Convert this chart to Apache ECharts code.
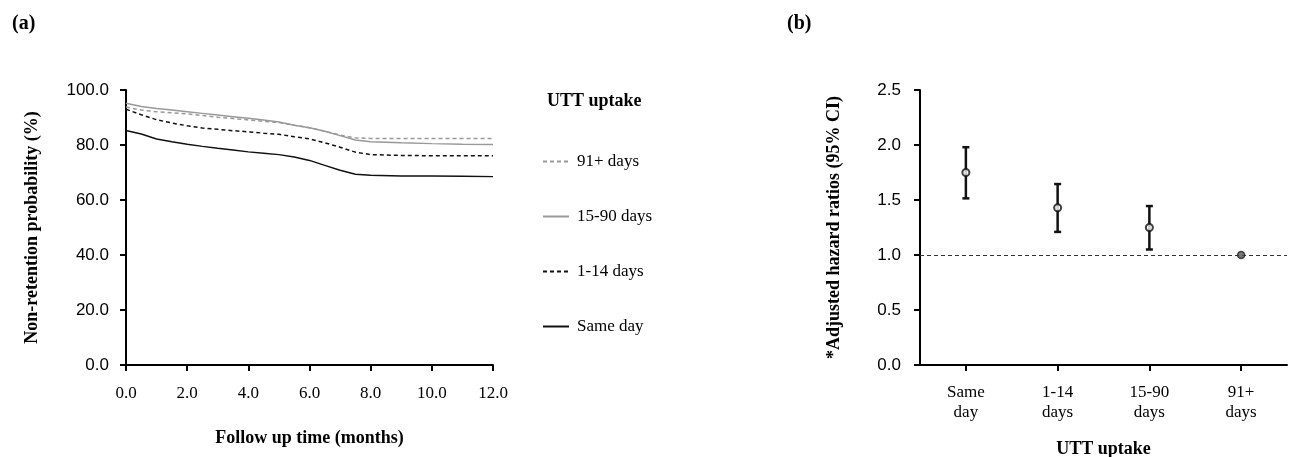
<!DOCTYPE html>
<html>
<head>
<meta charset="utf-8">
<script src="https://cdn.jsdelivr.net/npm/echarts@6/dist/echarts.min.js"></script>
<style>
  html, body { margin: 0; padding: 0; background: #fff; }
  #chart { width: 1298px; height: 457px; }
</style>
</head>
<body>
<div id="chart"></div>
<script>
// panel (a): follow up time in months
const months = [0, 0.5, 1, 1.5, 2, 2.5, 3, 3.5, 4, 4.5, 5, 5.5, 6, 6.5, 7, 7.5, 8, 9, 10, 11, 12];
const days91Plus = [93.8, 92.7, 92.1, 91.7, 91.3, 90.7, 90.1, 89.6, 89.1, 88.6, 88.2, 87.2, 86.3, 85.0, 83.6, 82.6, 82.4, 82.4, 82.4, 82.4, 82.4];
const days15to90 = [95.2, 94.0, 93.3, 92.7, 92.1, 91.5, 90.9, 90.3, 89.7, 89.1, 88.4, 87.2, 86.3, 85.0, 83.4, 81.8, 81.2, 80.8, 80.5, 80.3, 80.2];
const days1to14 = [93.0, 91.0, 89.2, 88.0, 87.0, 86.2, 85.7, 85.2, 84.8, 84.3, 83.9, 83.0, 82.2, 80.8, 79.2, 77.4, 76.5, 76.2, 76.1, 76.1, 76.1];
const sameDay = [85.3, 84.0, 82.2, 81.2, 80.3, 79.5, 78.8, 78.2, 77.5, 77.0, 76.5, 75.6, 74.4, 72.6, 70.8, 69.4, 69.0, 68.7, 68.7, 68.6, 68.5];

// panel (b): adjusted hazard ratios
const hrCategories = ['Same\nday', '1-14\ndays', '15-90\ndays', '91+\ndays'];
const hrPoint = [1.75, 1.43, 1.25, 1.0];
const hrLower = [1.515, 1.21, 1.05, null];
const hrUpper = [1.98, 1.645, 1.445, null];

const SERIF = '"Liberation Serif", "Times New Roman", serif';
const SANS = '"Liberation Sans", Arial, sans-serif';

const pairs = (ys) => months.map((m, i) => [m, ys[i]]);

const axisLineStyle = { show: true, lineStyle: { color: '#000', width: 2 } };
const axisTickStyle = { show: true, inside: false, length: 6, lineStyle: { color: '#000', width: 2 } };
const nameStyle = { fontFamily: SERIF, fontWeight: 'bold', fontSize: 18, color: '#000' };

const myChart = echarts.init(document.getElementById('chart'));

const option = {
  backgroundColor: '#fff',
  animation: false,
  title: [
    { text: '(a)', left: 7, top: 9, textStyle: { fontFamily: SERIF, fontWeight: 'bold', fontSize: 20, color: '#000' } },
    { text: '(b)', left: 782, top: 9, textStyle: { fontFamily: SERIF, fontWeight: 'bold', fontSize: 20, color: '#000' } },
    { text: 'UTT uptake', left: 542, top: 87, textStyle: { fontFamily: SERIF, fontWeight: 'bold', fontSize: 18, color: '#000' } }
  ],
  legend: {
    orient: 'vertical',
    left: 537,
    top: 148,
    itemWidth: 26,
    itemHeight: 14,
    itemGap: 38,
    itemStyle: { opacity: 0, borderWidth: 0 },
    data: ['91+ days', '15-90 days', '1-14 days', 'Same day'],
    textStyle: { fontFamily: SERIF, fontSize: 17, color: '#000', padding: [0, 0, 0, 3] }
  },
  grid: [
    { left: 126, right: 805, top: 90, bottom: 92, outerBoundsMode: 'none' },
    { left: 920, right: 11, top: 90, bottom: 92, outerBoundsMode: 'none' }
  ],
  xAxis: [
    {
      gridIndex: 0, type: 'value', min: 0, max: 12, interval: 2,
      name: 'Follow up time (months)', nameLocation: 'middle', nameGap: 64, nameTextStyle: nameStyle,
      axisLine: axisLineStyle, axisTick: axisTickStyle, splitLine: { show: false },
      axisLabel: { margin: 20, fontFamily: SERIF, fontSize: 17, color: '#000', formatter: v => v.toFixed(1) }
    },
    {
      gridIndex: 1, type: 'category', data: hrCategories, boundaryGap: true,
      name: 'UTT uptake', nameLocation: 'middle', nameGap: 75, nameTextStyle: nameStyle,
      axisLine: axisLineStyle, axisTick: Object.assign({}, axisTickStyle, { alignWithLabel: true }),
      axisLabel: { margin: 18, fontFamily: SERIF, fontSize: 17, lineHeight: 20, color: '#000' }
    }
  ],
  yAxis: [
    {
      gridIndex: 0, type: 'value', min: 0, max: 100, interval: 20,
      name: 'Non-retention probability (%)', nameLocation: 'middle', nameRotate: 90, nameGap: 85, nameTextStyle: nameStyle,
      axisLine: axisLineStyle, axisTick: axisTickStyle, splitLine: { show: false },
      axisLabel: { margin: 17, fontFamily: SANS, fontSize: 17, color: '#000', formatter: v => v.toFixed(1) }
    },
    {
      gridIndex: 1, type: 'value', min: 0, max: 2.5, interval: 0.5,
      name: '*Adjusted hazard ratios (95% CI)', nameLocation: 'middle', nameRotate: 90, nameGap: 77, nameTextStyle: nameStyle,
      axisLine: axisLineStyle, axisTick: axisTickStyle, splitLine: { show: false },
      axisLabel: { margin: 19, fontFamily: SANS, fontSize: 17, color: '#000', formatter: v => v.toFixed(1) }
    }
  ],
  series: [
    {
      name: '91+ days', type: 'line', xAxisIndex: 0, yAxisIndex: 0, symbol: 'none',
      data: pairs(days91Plus), lineStyle: { color: '#999', width: 1.5, type: [4, 3] }, itemStyle: { color: '#999' }
    },
    {
      name: '15-90 days', type: 'line', xAxisIndex: 0, yAxisIndex: 0, symbol: 'none',
      data: pairs(days15to90), lineStyle: { color: '#999', width: 1.5 }, itemStyle: { color: '#999' }
    },
    {
      name: '1-14 days', type: 'line', xAxisIndex: 0, yAxisIndex: 0, symbol: 'none',
      data: pairs(days1to14), lineStyle: { color: '#111', width: 1.5, type: [4, 3] }, itemStyle: { color: '#111' }
    },
    {
      name: 'Same day', type: 'line', xAxisIndex: 0, yAxisIndex: 0, symbol: 'none',
      data: pairs(sameDay), lineStyle: { color: '#111', width: 1.5 }, itemStyle: { color: '#111' }
    },
    // error bars
    {
      type: 'custom', xAxisIndex: 1, yAxisIndex: 1, silent: true,
      data: hrCategories.map((c, i) => [i, hrLower[i], hrUpper[i]]).filter(d => d[1] != null),
      encode: { x: 0, y: [1, 2] },
      renderItem: function (params, api) {
        const lo = api.coord([api.value(0), api.value(1)]);
        const hi = api.coord([api.value(0), api.value(2)]);
        const w = 3.5;
        const style = { stroke: '#111', lineWidth: 2.5 };
        return {
          type: 'group',
          children: [
            { type: 'line', shape: { x1: lo[0], y1: lo[1], x2: hi[0], y2: hi[1] }, style: style },
            { type: 'line', shape: { x1: lo[0] - w, y1: lo[1], x2: lo[0] + w, y2: lo[1] }, style: style },
            { type: 'line', shape: { x1: hi[0] - w, y1: hi[1], x2: hi[0] + w, y2: hi[1] }, style: style }
          ]
        };
      },
      markLine: {
        silent: true, symbol: 'none', label: { show: false },
        lineStyle: { color: '#333', width: 1, type: [4, 3] },
        data: [{ yAxis: 1 }]
      },
      z: 3
    },
    {
      type: 'scatter', xAxisIndex: 1, yAxisIndex: 1, symbol: 'circle', symbolSize: 7,
      data: hrPoint.map((v, i) => ({
        value: [i, v],
        itemStyle: i === hrPoint.length - 1 ? { color: '#555', borderColor: '#222', borderWidth: 1.5 } : { color: '#fff', borderColor: '#111', borderWidth: 2 }
      })),
      z: 5
    }
  ]
};

myChart.setOption(option);
</script>
</body>
</html>
